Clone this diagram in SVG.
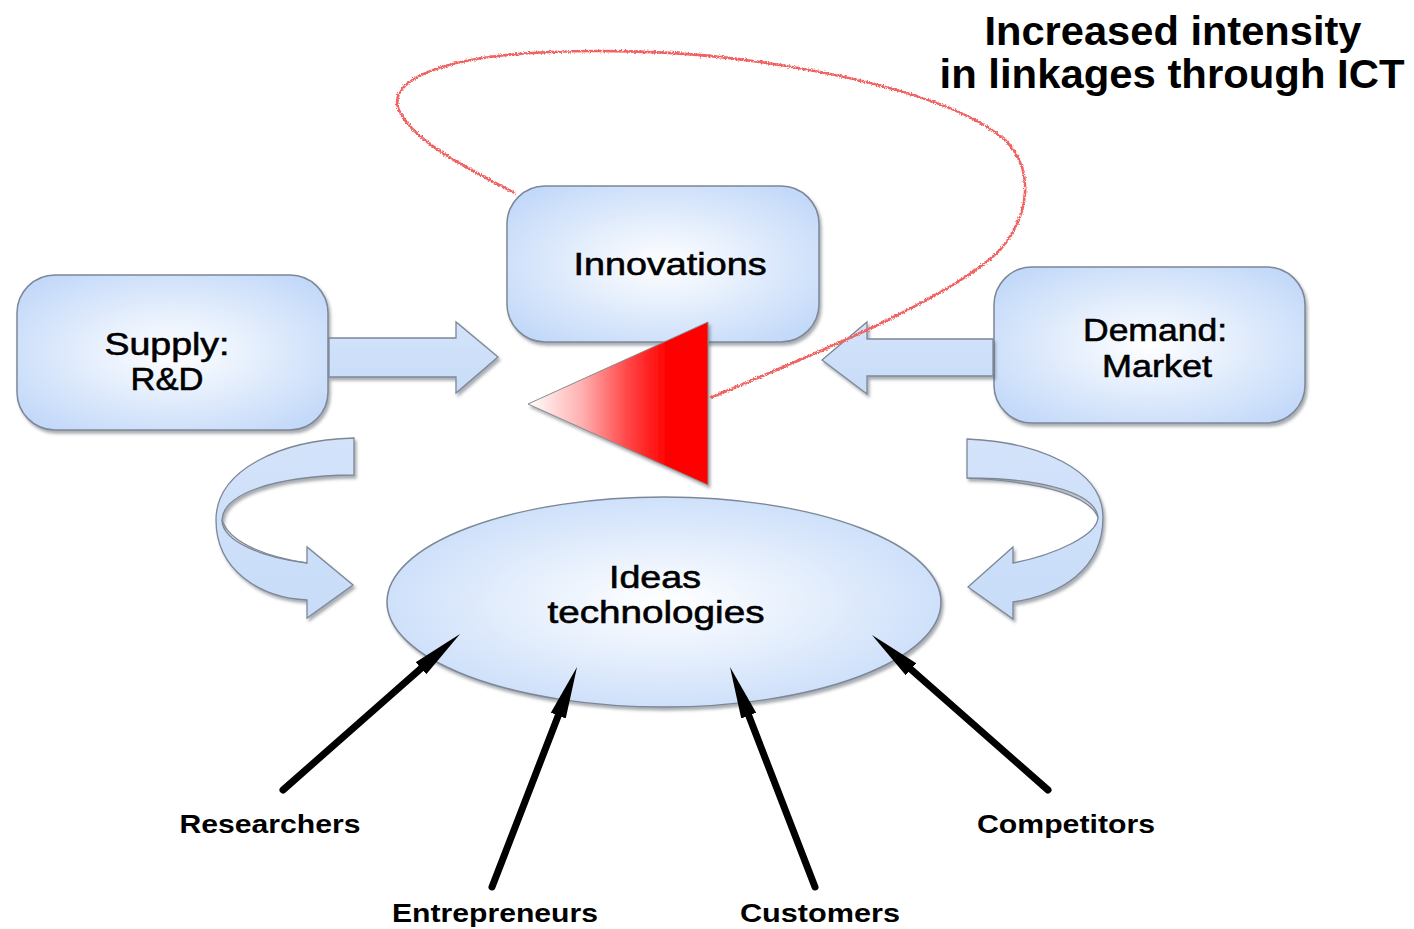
<svg xmlns="http://www.w3.org/2000/svg" width="1414" height="929" viewBox="0 0 1414 929">
<defs>
<radialGradient id="boxg" cx="50%" cy="50%" r="62%">
<stop offset="0" stop-color="#ffffff"/>
<stop offset="1" stop-color="#c3d9f9"/>
</radialGradient>
<linearGradient id="arrg" x1="0" y1="0" x2="0" y2="1">
<stop offset="0" stop-color="#d3e3fa"/>
<stop offset="1" stop-color="#c8dcf8"/>
</linearGradient>
<linearGradient id="redg" gradientUnits="userSpaceOnUse" x1="528" y1="0" x2="708" y2="0">
<stop offset="0" stop-color="#ffffff"/>
<stop offset="0.3" stop-color="#ffb0b0"/>
<stop offset="0.55" stop-color="#ff4848"/>
<stop offset="0.78" stop-color="#ff0000"/>
<stop offset="1" stop-color="#ff0000"/>
</linearGradient>
<filter id="shadow" x="-10%" y="-10%" width="125%" height="130%">
<feDropShadow dx="2" dy="3" stdDeviation="1.5" flood-color="#404a58" flood-opacity="0.45"/>
</filter>
<filter id="sketch" x="-5%" y="-5%" width="110%" height="110%">
<feTurbulence type="fractalNoise" baseFrequency="0.7" numOctaves="2" seed="3" result="n"/>
<feDisplacementMap in="SourceGraphic" in2="n" scale="4" xChannelSelector="R" yChannelSelector="G"/>
</filter>
<marker id="head" markerUnits="userSpaceOnUse" markerWidth="52" markerHeight="18" refX="22" refY="9" orient="auto">
<path d="M0,1 L52,9 L0,17 Z" fill="#000"/>
</marker>
<style>
.box{fill:url(#boxg);stroke:#7d8797;stroke-width:1.5;filter:url(#shadow)}
.blk{fill:url(#arrg);stroke:#7d8797;stroke-width:1.3;filter:url(#shadow)}
.t{font-family:"Liberation Sans",Arial,sans-serif;font-size:32px;fill:#000;stroke:#000;stroke-width:0.6;text-anchor:middle}
.lab{font-family:"Liberation Sans",Arial,sans-serif;font-size:25px;font-weight:bold;fill:#000;text-anchor:middle}
.title{font-family:"Liberation Sans",Arial,sans-serif;font-size:41px;font-weight:bold;fill:#000;text-anchor:middle}
.bl{stroke:#000;stroke-width:7;stroke-linecap:round;fill:none;marker-end:url(#head)}
.loop{fill:none;stroke:#ef6464;stroke-width:2.6;filter:url(#sketch)}
</style>
</defs>
<rect width="1414" height="929" fill="#ffffff"/>

<g id="title">
<text class="title" x="1173" y="45" textLength="377" lengthAdjust="spacingAndGlyphs">Increased intensity</text>
<text class="title" x="1172" y="88" textLength="465" lengthAdjust="spacingAndGlyphs">in linkages through ICT</text>
</g>

<g id="supply">
<rect class="box" x="17" y="275" width="311" height="155" rx="38"/>
<text class="t" x="167" y="355" textLength="125" lengthAdjust="spacingAndGlyphs">Supply:</text>
<text class="t" x="167" y="390" textLength="73" lengthAdjust="spacingAndGlyphs">R&amp;D</text>
</g>

<g id="innovations">
<rect class="box" x="507" y="186" width="312" height="156" rx="38"/>
<text class="t" x="670" y="275" textLength="193" lengthAdjust="spacingAndGlyphs">Innovations</text>
</g>

<g id="demand">
<rect class="box" x="994" y="267" width="311" height="156" rx="38"/>
<text class="t" x="1155" y="341" textLength="144" lengthAdjust="spacingAndGlyphs">Demand:</text>
<text class="t" x="1157" y="377" textLength="110" lengthAdjust="spacingAndGlyphs">Market</text>
</g>

<g id="ideas">
<ellipse class="box" cx="664" cy="602" rx="277" ry="105"/>
<text class="t" x="655" y="588" textLength="92" lengthAdjust="spacingAndGlyphs">Ideas</text>
<text class="t" x="656" y="623" textLength="217" lengthAdjust="spacingAndGlyphs">technologies</text>
</g>

<g id="connectors">
<path class="blk" d="M329,338 L456,338 L456,322 L498,357 L456,393 L456,377 L329,377 Z"/>
<path class="blk" d="M993,339 L867,339 L867,322 L822,360 L867,394 L867,376 L993,376 Z"/>
<path class="blk" d="M354,438 C280,440 216,470 216,520 C216,570 260,598 307,600 L307,618 L353,585 L307,547 L307,563 C265,558 222,542 222,520 C223,495 270,476 354,475 Z"/>
<path d="M222,520 C228,540 260,556 307,563" fill="none" stroke="#7d8797" stroke-width="1.2"/>
<path class="blk" d="M967,439 C1040,442 1103,470 1103,517 C1103,570 1060,595 1013,602 L1013,619 L968,587 L1013,547 L1013,563 C1055,555 1098,535 1098,517 C1095,495 1050,478 967,478 Z"/>
<path d="M1098,517 C1090,498 1050,482 967,478" fill="none" stroke="#7d8797" stroke-width="1.2"/>
<line class="bl" x1="283" y1="790" x2="437.5" y2="653.8"/>
<line class="bl" x1="492" y1="887" x2="566.2" y2="695"/>
<line class="bl" x1="815" y1="887" x2="740.8" y2="695"/>
<line class="bl" x1="1048" y1="790" x2="894.5" y2="654.8"/>
</g>

<g id="triangle">
<polygon points="528,404 708,322 708,485" fill="url(#redg)" stroke="#8a8a8a" stroke-width="1" filter="url(#shadow)"/>
</g>

<g id="loop">
<path class="loop" d="M515,193 C470,170 410,140 398,108 C390,80 440,62 506,55 C580,48 680,50 760,62 C850,75 960,100 1005,140 C1035,170 1030,215 1000,250 C950,300 800,360 710,398"/>
</g>

<g id="labels">
<text class="lab" x="270" y="833" textLength="181" lengthAdjust="spacingAndGlyphs">Researchers</text>
<text class="lab" x="495" y="922" textLength="206" lengthAdjust="spacingAndGlyphs">Entrepreneurs</text>
<text class="lab" x="820" y="922" textLength="160" lengthAdjust="spacingAndGlyphs">Customers</text>
<text class="lab" x="1066" y="833" textLength="178" lengthAdjust="spacingAndGlyphs">Competitors</text>
</g>
</svg>
